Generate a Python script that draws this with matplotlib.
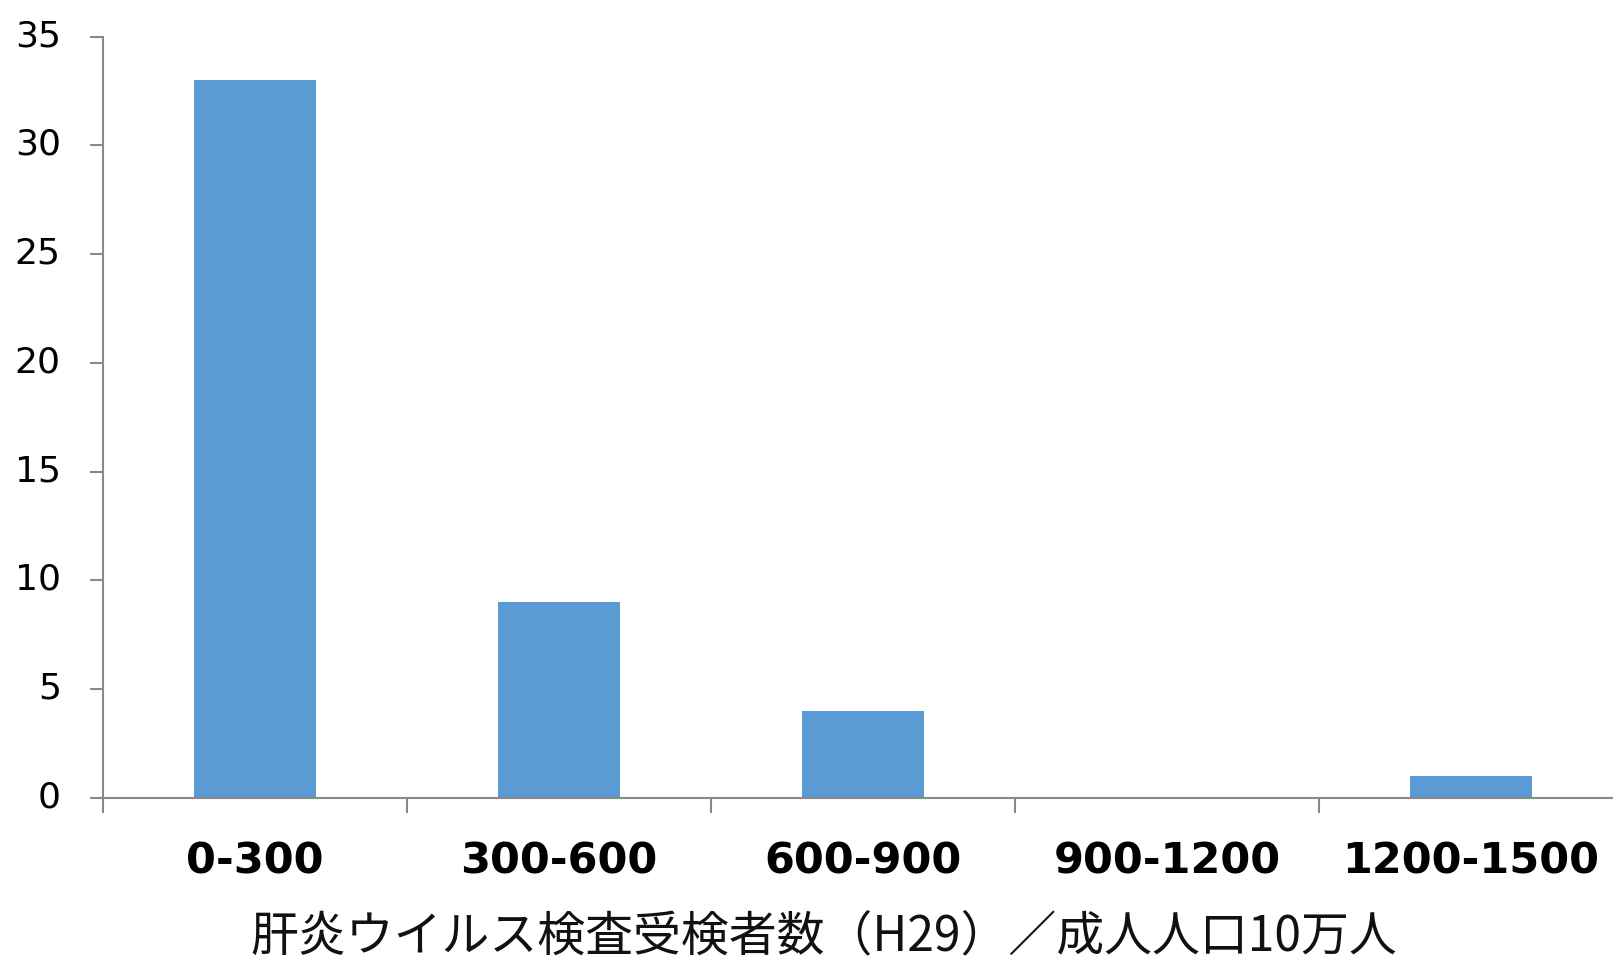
import matplotlib
matplotlib.use("Agg")
import matplotlib.pyplot as plt
import matplotlib.transforms as mtransforms
import numpy as np

categories = ["0-300", "300-600", "600-900", "900-1200", "1200-1500"]
counts = [33, 9, 4, 0, 1]
y_ticks = [0, 5, 10, 15, 20, 25, 30, 35]
x_title = "肝炎ウイルス検査受検者数（H29）／成人人口10万人"

W, H = 1613, 964
fig = plt.figure(figsize=(W / 100, H / 100), dpi=100)
ax = fig.add_axes([103 / W, 1 - 797.7 / H, 1520 / W, (797.7 - 36.7) / H])

axis_color = "#898989"
x = np.arange(len(categories))
ax.bar(x, counts, width=0.4, color="#5B9BD5", zorder=2)

ax.set_xlim(-0.5, len(categories) - 0.5)
ax.set_ylim(0, 35)
ax.set_yticks(y_ticks)
ax.set_yticklabels([str(v) for v in y_ticks], fontsize=26, family="DejaVu Sans")

ax.set_xticks(x)
ax.set_xticklabels(categories, fontsize=31, fontweight="bold", family="DejaVu Sans")
ax.set_xticks(np.arange(len(categories) + 1) - 0.5, minor=True)

ax.tick_params(axis="x", which="major", length=0, pad=31)
ax.tick_params(axis="x", which="minor", length=10.8, width=1.5, color=axis_color, direction="out")
ax.tick_params(axis="y", length=9.4, width=1.5, color=axis_color, direction="out", pad=21)

# value labels sit slightly above their tick marks
lift = mtransforms.ScaledTranslation(0, 4 / 100, fig.dpi_scale_trans)
for lab in ax.get_yticklabels():
    lab.set_transform(lab.get_transform() + lift)

for side in ["top", "right"]:
    ax.spines[side].set_visible(False)
for side in ["left", "bottom"]:
    ax.spines[side].set_color(axis_color)
    ax.spines[side].set_linewidth(1.5)
ax.spines["bottom"].set_zorder(3)

fig.text(824 / W, 1 - 912 / H, x_title, ha="center", va="top", fontsize=34.5,
         family=["Noto Sans CJK JP", "DejaVu Sans"], color="#111111")

fig.savefig("out.png", dpi=100)
